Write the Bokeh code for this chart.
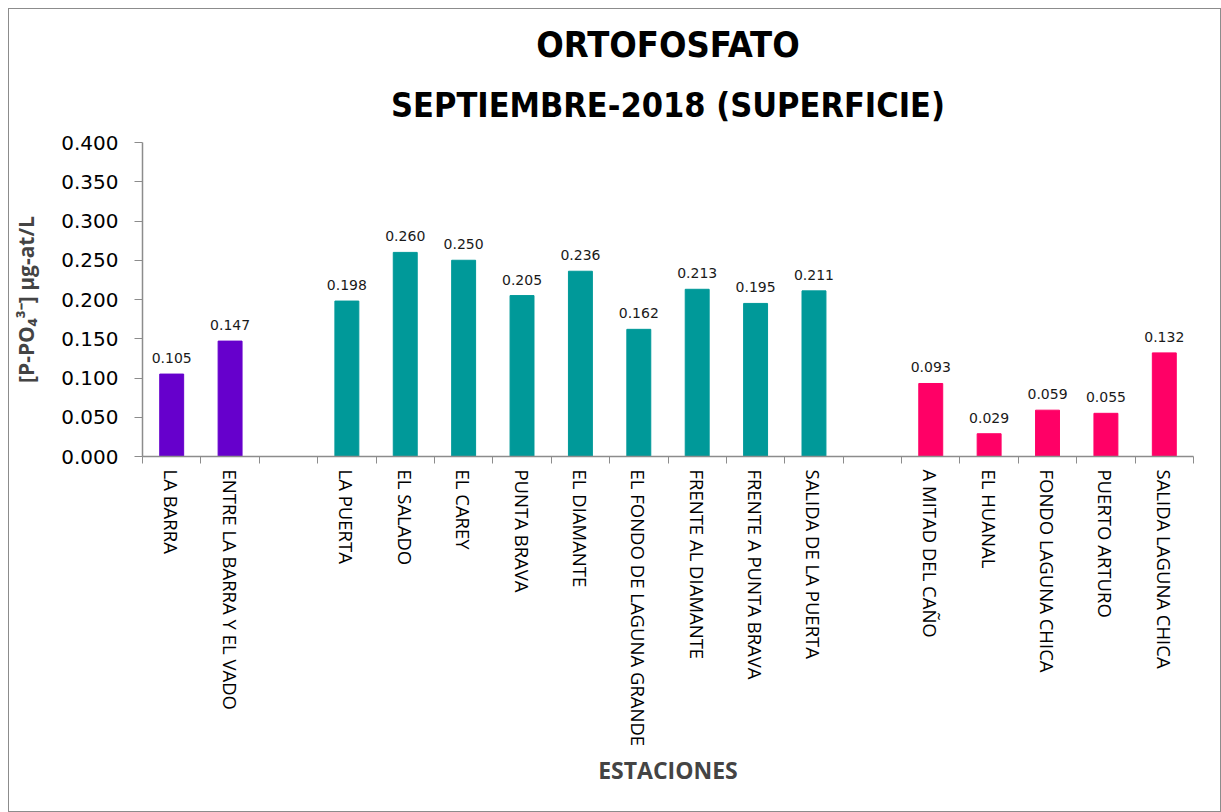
from bokeh.plotting import figure
from bokeh.models import Range1d, FixedTicker, NumeralTickFormatter, ColumnDataSource, Title
from bokeh.embed import file_html
from bokeh.resources import INLINE

# ---- data ----
group1 = ["LA BARRA", "ENTRE LA BARRA Y EL VADO"]
values1 = [0.105, 0.147]
group2 = ["LA PUERTA", "EL SALADO", "EL CAREY", "PUNTA BRAVA", "EL DIAMANTE",
          "EL FONDO DE LAGUNA GRANDE", "FRENTE AL DIAMANTE", "FRENTE A PUNTA BRAVA",
          "SALIDA DE LA PUERTA"]
values2 = [0.198, 0.260, 0.250, 0.205, 0.236, 0.162, 0.213, 0.195, 0.211]
group3 = ["A MITAD DEL CAÑO", "EL HUANAL", "FONDO LAGUNA CHICA", "PUERTO ARTURO",
          "SALIDA LAGUNA CHICA"]
values3 = [0.093, 0.029, 0.059, 0.055, 0.132]
colors = ["#6600CC", "#009999", "#FF0066"]
y_ticks = [0.0, 0.05, 0.1, 0.15, 0.2, 0.25, 0.3, 0.35, 0.4]
title1 = "ORTOFOSFATO"
title2 = "SEPTIEMBRE-2018 (SUPERFICIE)"

# ---- build positions with a blank slot between groups ----
labels = []
xs, ys, cs = [], [], []
pos = 0
for gi, (names, vals) in enumerate([(group1, values1), (group2, values2), (group3, values3)]):
    if gi > 0:
        labels.append("")
        pos += 1
    for n, v in zip(names, vals):
        labels.append(n)
        xs.append(pos)
        ys.append(v)
        cs.append(colors[gi])
        pos += 1
nslots = len(labels)

src = ColumnDataSource(dict(x=xs, top=ys, color=cs, txt=["%.3f" % v for v in ys]))

p = figure(width=1213, height=804, output_backend="svg", toolbar_location=None,
           x_range=Range1d(-0.5, nslots - 0.5), y_range=Range1d(0, 0.4),
           min_border_left=133, min_border_right=29, min_border_top=133, min_border_bottom=357)
p.styles = {"border": "1px solid #8c8c8c", "margin-left": "8px", "margin-top": "8px"}
p.outline_line_color = None
p.xgrid.grid_line_color = None
p.ygrid.grid_line_color = None

p.vbar(x="x", top="top", width=0.41, color="color", source=src)
p.text(x="x", y="top", text="txt", source=src, text_align="center", text_baseline="alphabetic",
       y_offset=-16, text_font_size="14px", text_font={"value": "DejaVu Sans"}, text_color="#1a1a1a")

# x axis
p.xaxis.ticker = FixedTicker(ticks=list(range(nslots)),
                             minor_ticks=[i - 0.5 for i in range(nslots + 1)])
p.xaxis.major_label_overrides = {i: l for i, l in enumerate(labels)}
p.xaxis.major_label_orientation = -1.5707963
p.xaxis.major_tick_line_color = None
p.xaxis.minor_tick_line_color = "#8c8c8c"
p.xaxis.minor_tick_in = 0
p.xaxis.minor_tick_out = 7
p.xaxis.major_tick_out = 7
p.xaxis.axis_line_color = "#8c8c8c"
p.xaxis.axis_line_width = 1.5
p.xaxis.major_label_text_font = "Open Sans"
p.xaxis.major_label_text_font_size = "18.5px"
p.xaxis.major_label_text_color = "#000000"
p.xaxis.major_label_standoff = 6
p.xaxis.axis_label = "ESTACIONES"
p.xaxis.axis_label_text_font = "Open Sans"
p.xaxis.axis_label_text_font_style = "bold"
p.xaxis.axis_label_text_font_size = "23px"
p.xaxis.axis_label_standoff = 5

# y axis
p.yaxis.ticker = FixedTicker(ticks=y_ticks)
p.yaxis.formatter = NumeralTickFormatter(format="0.000")
p.yaxis.minor_tick_line_color = None
p.yaxis.major_tick_in = 0
p.yaxis.major_tick_out = 8
p.yaxis.major_tick_line_color = "#8c8c8c"
p.yaxis.axis_line_color = "#8c8c8c"
p.yaxis.axis_line_width = 1.5
p.yaxis.major_label_text_font = "DejaVu Sans"
p.yaxis.major_label_text_font_size = "20px"
p.yaxis.major_label_text_color = "#000000"
p.yaxis.major_label_standoff = 16
p.yaxis.axis_label = "[P-PO₄³⁻] µg-at/L"
p.yaxis.axis_label_text_font = "Open Sans"
p.yaxis.axis_label_text_font_style = "bold"
p.yaxis.axis_label_text_font_size = "21px"
p.yaxis.axis_label_standoff = 18

# titles (first added sits nearest the plot)
p.add_layout(Title(text=title2, align="center", text_font="DejaVu Sans Condensed",
                   text_font_style="bold", text_font_size="34px", text_color="#000000",
                   standoff=36), "above")
p.add_layout(Title(text=title1, align="center", text_font="DejaVu Sans Condensed",
                   text_font_style="bold", text_font_size="36px", text_color="#000000",
                   standoff=0), "above")

open("out.html", "w").write(file_html(p, INLINE))
